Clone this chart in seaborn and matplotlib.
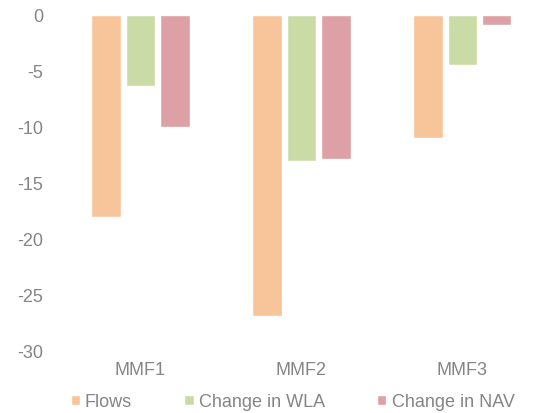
import pandas as pd
import seaborn as sns
import matplotlib.pyplot as plt

funds = ["MMF1", "MMF2", "MMF3"]
series = ["Flows", "Change in WLA", "Change in NAV"]
flows = [-18.0, -26.9, -11.0]
change_wla = [-6.3, -13.0, -4.5]
change_nav = [-10.0, -12.9, -0.9]
colors = ["#F8C59B", "#CADBA5", "#DCA0A5"]

df = pd.DataFrame({
    "fund": funds * 3,
    "series": [s for s in series for _ in funds],
    "value": flows + change_wla + change_nav,
})

sns.set_theme(style="white")
plt.rcParams["font.family"] = ["Liberation Sans", "DejaVu Sans"]
plt.rcParams["axes.unicode_minus"] = False

fig = plt.figure(figsize=(5.34, 4.14), dpi=100)
ax = fig.add_axes([60 / 534, 62 / 414, 474 / 534, 336 / 414])

sns.barplot(data=df, x="fund", y="value", hue="series", hue_order=series,
            palette=colors, width=0.64, gap=0.14, saturation=1, ax=ax)

ax.set_ylim(-30, 0)
ax.set_xlim(-0.5, 2.445)
ax.set_yticks([0, -5, -10, -15, -20, -25, -30])
ax.set_xlabel("")
ax.set_ylabel("")
sns.despine(ax=ax, left=True, bottom=True)
ax.tick_params(axis="y", length=0, pad=12, labelsize=13, labelcolor="#858585")
ax.tick_params(axis="x", length=0, pad=7, labelsize=13, labelcolor="#858585")

ax.get_legend().remove()
handles, labels = ax.get_legend_handles_labels()
fig.legend(handles[:3], labels[:3], loc="lower center", ncol=3,
           bbox_to_anchor=(0.548, -0.033), frameon=False, fontsize=13,
           labelcolor="#858585", handlelength=0.5, handleheight=0.5,
           handletextpad=0.3, columnspacing=2.9)

fig.savefig("out.png", dpi=100)
